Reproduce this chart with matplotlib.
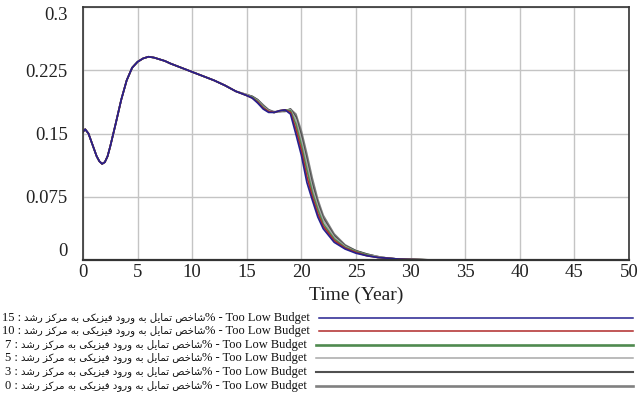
"""
Growth center entry index under the Too Low Budget scenario, for six runs.
"""

import matplotlib
matplotlib.use("Agg")
import matplotlib.pyplot as plt

# time points shared by every run up to year 14
headTime = [0, 0.2, 0.5, 0.75, 1.0, 1.25, 1.5, 1.75, 2.0, 2.25, 2.5, 3.0, 3.5, 4.0, 4.5,
            5.0, 5.5, 6.0, 6.5, 7.0, 7.5, 8.0, 9.0, 10, 11, 12, 13, 14]
headValue = [0.152, 0.155, 0.150, 0.141, 0.132, 0.123, 0.117, 0.114, 0.116, 0.123, 0.135,
             0.162, 0.190, 0.213, 0.228, 0.235, 0.239, 0.241, 0.240, 0.238, 0.236, 0.233,
             0.228, 0.223, 0.218, 0.213, 0.207, 0.200]

tailTime = [15, 15.5, 16, 16.5, 17, 17.5, 18, 18.5, 19, 19.5, 20, 20.5, 21, 21.5, 22,
            23, 24, 25, 26, 27, 28, 29, 30, 32, 50]

runs = [15, 10, 7, 5, 3, 0]
tailValues = {
    15: [0.195, 0.192, 0.186, 0.179, 0.175, 0.175, 0.177, 0.178, 0.173, 0.149, 0.124, 0.092,
         0.071, 0.051, 0.037, 0.021, 0.013, 0.008, 0.005, 0.003, 0.002, 0.001, 0.0005, 0.0, 0.0],
    10: [0.195, 0.192, 0.187, 0.180, 0.176, 0.175, 0.177, 0.178, 0.175, 0.155, 0.130, 0.099,
         0.075, 0.055, 0.040, 0.023, 0.014, 0.009, 0.005, 0.003, 0.002, 0.001, 0.0006, 0.0, 0.0],
    7: [0.195, 0.193, 0.188, 0.181, 0.176, 0.175, 0.177, 0.178, 0.177, 0.161, 0.136, 0.107,
        0.080, 0.060, 0.043, 0.025, 0.015, 0.010, 0.006, 0.003, 0.002, 0.001, 0.0007, 0.0, 0.0],
    5: [0.196, 0.193, 0.189, 0.182, 0.177, 0.175, 0.176, 0.178, 0.178, 0.166, 0.142, 0.114,
        0.085, 0.064, 0.047, 0.027, 0.016, 0.010, 0.006, 0.004, 0.002, 0.001, 0.0008, 0.0, 0.0],
    3: [0.196, 0.194, 0.190, 0.183, 0.178, 0.175, 0.176, 0.177, 0.179, 0.170, 0.148, 0.120,
        0.091, 0.068, 0.050, 0.029, 0.017, 0.011, 0.007, 0.004, 0.002, 0.001, 0.0009, 0.0, 0.0],
    0: [0.196, 0.194, 0.190, 0.184, 0.178, 0.176, 0.176, 0.176, 0.179, 0.173, 0.153, 0.126,
        0.097, 0.072, 0.053, 0.031, 0.018, 0.011, 0.007, 0.004, 0.002, 0.001, 0.001, 0.0, 0.0],
}
runColors = {15: "#25208f", 10: "#b02a2a", 7: "#4f8a4f", 5: "#a8a8a8", 3: "#505050", 0: "#808080"}
legendWidths = {15: 1.1, 10: 1.1, 7: 1.9, 5: 1.1, 3: 1.5, 0: 1.9}

xTicks = [0, 5, 10, 15, 20, 25, 30, 35, 40, 45, 50]
yTicks = [0, 0.075, 0.15, 0.225, 0.3]
yTickLabels = ["0", "0.075", "0.15", "0.225", "0.3"]

variableName = "شاخص تمایل به ورود فیزیکی به مرکز رشد"
scenarioName = "Too Low Budget"

# Arabic presentation forms: isolated, final, initial, medial
FORMS = {
    "ا": ("\uFE8D", "\uFE8E"), "د": ("\uFEA9", "\uFEAA"), "ر": ("\uFEAD", "\uFEAE"),
    "ز": ("\uFEAF", "\uFEB0"), "و": ("\uFEED", "\uFEEE"),
    "ب": ("\uFE8F", "\uFE90", "\uFE91", "\uFE92"), "ت": ("\uFE95", "\uFE96", "\uFE97", "\uFE98"),
    "خ": ("\uFEA5", "\uFEA6", "\uFEA7", "\uFEA8"), "ش": ("\uFEB5", "\uFEB6", "\uFEB7", "\uFEB8"),
    "ص": ("\uFEB9", "\uFEBA", "\uFEBB", "\uFEBC"), "ف": ("\uFED1", "\uFED2", "\uFED3", "\uFED4"),
    "ل": ("\uFEDD", "\uFEDE", "\uFEDF", "\uFEE0"), "م": ("\uFEE1", "\uFEE2", "\uFEE3", "\uFEE4"),
    "ه": ("\uFEE9", "\uFEEA", "\uFEEB", "\uFEEC"), "ی": ("\uFBFC", "\uFBFD", "\uFBFE", "\uFBFF"),
    "ک": ("\uFB8E", "\uFB8F", "\uFB90", "\uFB91"),
}


def shapeWord(word):
    """
    Picks the joined glyph form of every letter in a word (logical order).
    """
    out = []
    for i, ch in enumerate(word):
        forms = FORMS[ch]
        joinPrev = i > 0 and len(FORMS[word[i - 1]]) == 4
        joinNext = i < len(word) - 1 and len(forms) == 4
        if joinPrev and joinNext:
            out.append(forms[3])
        elif joinNext:
            out.append(forms[2])
        elif joinPrev:
            out.append(forms[1])
        else:
            out.append(forms[0])
    return "".join(out)


def visualPersian(text):
    """
    Returns right-to-left text laid out for left-to-right drawing.
    """
    return " ".join(shapeWord(w)[::-1] for w in reversed(text.split()))


def main():
    plt.rcParams["font.family"] = ["Liberation Serif", "DejaVu Sans"]
    W, H = 644, 397
    fig = plt.figure(figsize=(W / 100, H / 100), dpi=100)
    ax = fig.add_axes([83 / W, 1 - 260 / H, 546 / W, 253 / H])

    for run in runs[::-1]:
        t = headTime + tailTime
        v = headValue + tailValues[run]
        ax.plot(t, v, color=runColors[run], lw=1.2, solid_capstyle="round")

    ax.set_xlim(0, 50)
    ax.set_ylim(0, 0.3)
    ax.set_xticks(xTicks)
    ax.set_yticks(yTicks)
    ax.set_yticklabels(yTickLabels)
    ax.grid(True, color="#c4c4c4", lw=1.0)
    ax.set_axisbelow(True)
    ax.tick_params(length=0, labelsize=13.5, colors="#222222")
    ax.tick_params(axis="y", pad=11)
    ax.tick_params(axis="x", pad=3)
    ylabels = ax.get_yticklabels()
    ylabels[0].set_verticalalignment("bottom")
    ylabels[-1].set_verticalalignment("top")
    for side in ax.spines.values():
        side.set_color("#333333")
        side.set_linewidth(1.2)
    ax.spines["bottom"].set_linewidth(1.6)
    ax.set_xlabel("Time (Year)", fontsize=14, color="#222222", labelpad=4)

    # legend rows below the chart: centred label, then the run line out to the right
    rowY = [318, 331, 345, 358, 372, 386]
    fig.canvas.draw()
    renderer = fig.canvas.get_renderer()
    for run, y in zip(runs, rowY):
        fy = 1 - y / H
        pieces = [
            fig.text(0, fy, "{} : ".format(run), fontsize=9, ha="left", va="center",
                     color="#111111", family="Liberation Serif"),
            fig.text(0, fy, visualPersian(variableName), fontsize=7.3, ha="left",
                     va="center", color="#111111", family="DejaVu Sans"),
            fig.text(0, fy, "% - " + scenarioName, fontsize=9, ha="left", va="center",
                     color="#111111", family="Liberation Serif"),
        ]
        widths = [p.get_window_extent(renderer).width for p in pieces]
        x = 156 - sum(widths) / 2
        for p, w in zip(pieces, widths):
            p.set_x(x / W)
            x += w
        fig.add_artist(plt.Line2D([(x + 9) / W, 633 / W], [fy, fy],
                                  color=runColors[run], lw=legendWidths[run]))

    fig.savefig("out.png", dpi=100)


if __name__ == '__main__':
    main()
